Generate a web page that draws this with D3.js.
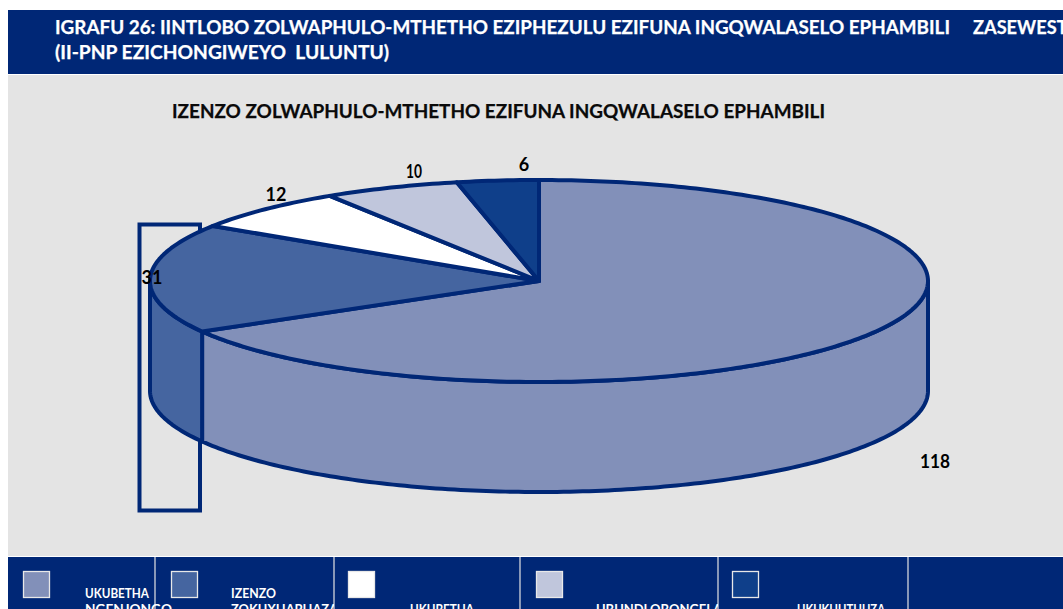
<!DOCTYPE html>
<html><head><meta charset="utf-8">
<script src="https://cdn.jsdelivr.net/npm/d3@7"></script>
<style>html,body{margin:0;padding:0;background:#fff;overflow:hidden}svg{display:block}text{font-family:"Lato","Open Sans",sans-serif;font-weight:700}</style>
</head><body><svg id="c" width="1063" height="609"></svg>
<script>
const categories = ["UKUBETHA NGENJONGO","IZENZO ZOKUXHAPHAZA","UKUBETHA","UBUNDLOBONGELA","UKUKHUTHUZA"];
const values = [118,31,12,10,6];
const colors = ["#8290B9","#4565A0","#FFFFFF","#C0C6DC","#0F3F8A"];
const legendLines = [["UKUBETHA","NGENJONGO"],["IZENZO","ZOKUXHAPHAZA"],["","UKUBETHA"],["","UBUNDLOBONGELA"],["","UKUKHUTHUZA"]];
const headerParts = ["IGRAFU 26: IINTLOBO ZOLWAPHULO-MTHETHO EZIPHEZULU EZIFUNA INGQWALASELO EPHAMBILI","ZASEWEST","(II-PNP EZICHONGIWEYO  LULUNTU)"];
const chartTitle = "IZENZO ZOLWAPHULO-MTHETHO EZIFUNA INGQWALASELO EPHAMBILI";

const navy="#002776", W=1063, H=609;
const cx=539, cy=281, rx=389, ry=101, depth=110;
const svg=d3.select("#c");

// backgrounds
svg.append("rect").attr("x",8).attr("y",10).attr("width",W-8).attr("height",64).attr("fill",navy);
svg.append("rect").attr("x",8).attr("y",75).attr("width",W-8).attr("height",481).attr("fill","#E4E4E4");
svg.append("rect").attr("x",8).attr("y",557).attr("width",W-8).attr("height",52).attr("fill",navy);

// header
const hdX=[55,973,55], hdY=[34,34,59], hdLen=[895,null,334];
svg.selectAll(".hd").data(headerParts).join("text").attr("class","hd")
  .attr("x",(d,i)=>hdX[i]).attr("y",(d,i)=>hdY[i]).attr("fill","#fff").attr("font-size",18.2)
  .attr("stroke","#fff").attr("stroke-width",.25)
  .attr("xml:space","preserve").style("white-space","pre")
  .each(function(d,i){ if(hdLen[i]) d3.select(this).attr("textLength",hdLen[i]).attr("lengthAdjust","spacingAndGlyphs"); })
  .text(d=>d);
svg.append("text").attr("x",172).attr("y",118).attr("fill","#0a0a0a").attr("font-size",18.9)
  .attr("stroke","#0a0a0a").attr("stroke-width",.25).attr("textLength",653).attr("lengthAdjust","spacingAndGlyphs").text(chartTitle);

// stray frame behind the pie
svg.append("rect").attr("x",139.5).attr("y",224.5).attr("width",60.5).attr("height",286)
  .attr("fill","none").attr("stroke",navy).attr("stroke-width",4);

// pie
const arcs=d3.pie().sort(null).value(d=>d)(values);
const px=a=>cx+rx*Math.sin(a), py=a=>cy-ry*Math.cos(a);
const sample=(a0,a1)=>{const n=Math.max(2,Math.ceil(Math.abs(a1-a0)*60));return d3.range(n+1).map(i=>a0+(a1-a0)*i/n);};
const line=d3.line();

// side walls: visible only on the front half of the ellipse
const g=svg.append("g").attr("stroke",navy).attr("stroke-width",4).attr("stroke-linejoin","round");
arcs.forEach((s,i)=>{
  const a0=Math.max(s.startAngle,Math.PI/2), a1=Math.min(s.endAngle,3*Math.PI/2);
  if(a1<=a0) return;
  const top=sample(a0,a1).map(a=>[px(a),py(a)]);
  const bot=sample(a1,a0).map(a=>[px(a),py(a)+depth]);
  g.append("path").attr("d",line(top.concat(bot))+"Z").attr("fill",colors[i]);
});
// top slices
arcs.forEach((s,i)=>{
  const pts=[[cx,cy]].concat(sample(s.startAngle,s.endAngle).map(a=>[px(a),py(a)]));
  g.append("path").attr("d",line(pts)+"Z").attr("fill",colors[i]);
});

// value labels
const labelPos=[[935,468],[152,284],[276,201],[414,178],[524,171]], labelW=[30,null,null,16,null];
svg.selectAll(".v").data(values).join("text").attr("class","v")
  .attr("x",(d,i)=>labelPos[i][0]).attr("y",(d,i)=>labelPos[i][1])
  .attr("text-anchor","middle").attr("fill","#000").attr("font-size",18)
  .each(function(d,i){ if(labelW[i]) d3.select(this).attr("textLength",labelW[i]).attr("lengthAdjust","spacingAndGlyphs"); })
  .text(d=>d);

// legend
const sep=[155,334,520,718,908], swX=[23,171,348,536,732], txX=[85,231,410,596,797], clipR=[null,334,null,718,null];
const lineW=[[64,87],[45,107],[0,64],[0,126],[0,88]];
svg.selectAll(".sep").data(sep).join("line").attr("class","sep").attr("x1",d=>d).attr("x2",d=>d)
  .attr("y1",557).attr("y2",609).attr("stroke","#E4E4E4").attr("stroke-width",1.2);
categories.forEach((c,i)=>{
  svg.append("rect").attr("x",swX[i]+.5).attr("y",571.5).attr("width",26).attr("height",26)
    .attr("fill",colors[i]).attr("stroke","#E8E8E8").attr("stroke-width",1.3);
  if(clipR[i]) svg.append("clipPath").attr("id","cl"+i).append("rect").attr("x",swX[i]).attr("y",557).attr("width",clipR[i]-swX[i]).attr("height",52);
  const t=svg.append("g").attr("clip-path",clipR[i]?`url(#cl${i})`:null);
  legendLines[i].forEach((l,j)=>{ if(l) t.append("text").attr("x",txX[i]).attr("y",598+j*15.5).attr("fill","#fff").attr("font-size",13)
    .attr("textLength",lineW[i][j]).attr("lengthAdjust","spacingAndGlyphs").text(l); });
});
</script></body></html>
